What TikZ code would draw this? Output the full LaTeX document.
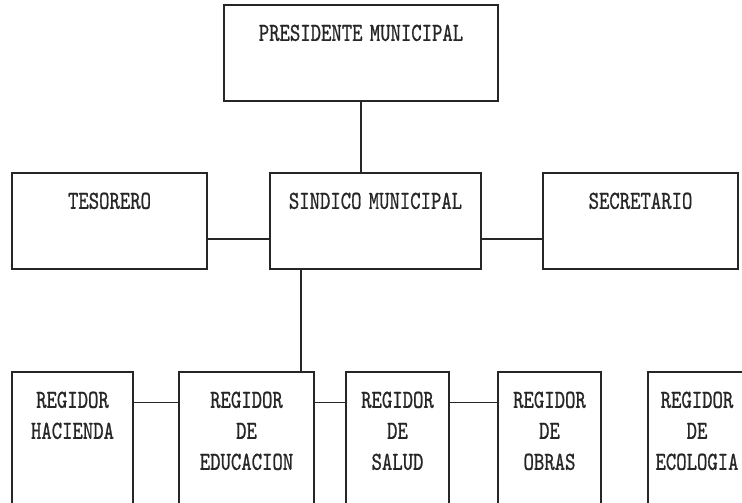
\documentclass[tikz,border=0pt]{standalone}
\usepackage{fontspec}
\newfontfamily\orgfont[FakeStretch=0.76,FakeBold=0.8,WordSpace=0.7]{lmmono10-regular.otf}
\begin{document}
\begin{tikzpicture}[x=1pt,y=-1pt,
  box/.style={draw=black!85,line width=1.1pt,rectangle,inner sep=0pt,fill=white},
  lbl/.style={anchor=north,inner sep=0pt,align=center,text=black!85,font=\orgfont\fontsize{26}{31}\selectfont},
  conn/.style={draw=black!85,line width=1.1pt}]
\useasboundingbox (0,0) rectangle (742,503);
\clip (0,0) rectangle (742,503);
% boxes
\node[box,minimum width=274,minimum height=96] (pres) at (361,53) {};
\node[box,minimum width=195,minimum height=96] (tes) at (109.5,221) {};
\node[box,minimum width=211,minimum height=96] (sind) at (375.5,221) {};
\node[box,minimum width=195,minimum height=96] (sec) at (640.5,221) {};
\node[box,minimum width=121,minimum height=158] (hac) at (72.5,451) {};
\node[box,minimum width=135,minimum height=158] (edu) at (246.5,451) {};
\node[box,minimum width=103,minimum height=158] (sal) at (397.5,451) {};
\node[box,minimum width=103,minimum height=158] (obr) at (549.5,451) {};
\node[box,minimum width=98,minimum height=158] (eco) at (697,451) {};
% labels
\node[lbl] (tpres) at ([yshift=-20pt]pres.north) {PRESIDENTE MUNICIPAL};
\node[lbl] (ttes) at ([yshift=-20pt]tes.north) {TESORERO};
\node[lbl] (tsind) at ([yshift=-20pt]sind.north) {SINDICO MUNICIPAL};
\node[lbl] (tsec) at ([yshift=-20pt]sec.north) {SECRETARIO};
\node[lbl] (thac) at ([yshift=-20pt]hac.north) {REGIDOR\\HACIENDA};
\node[lbl] (tedu) at ([yshift=-20pt]edu.north) {REGIDOR\\DE\\EDUCACION};
\node[lbl] (tsal) at ([yshift=-20pt]sal.north) {REGIDOR\\DE\\SALUD};
\node[lbl] (tobr) at ([yshift=-20pt]obr.north) {REGIDOR\\DE\\OBRAS};
\node[lbl] (teco) at ([yshift=-20pt]eco.north) {REGIDOR\\DE\\ECOLOGIA};
% connectors
\draw[conn] (pres.south) -- (pres.south |- sind.north);
\draw[conn] ([yshift=-18pt]tes.east) -- ([yshift=-18pt]sind.west);
\draw[conn] ([yshift=-18pt]sind.east) -- ([yshift=-18pt]sec.west);
\draw[conn] ([xshift=-74.5pt]sind.south) -- ([xshift=-74.5pt]sind.south |- edu.north);
\draw[conn] ([yshift=-31pt]hac.north east) -- ([yshift=-31pt]edu.north west);
\draw[conn] ([yshift=-31pt]edu.north east) -- ([yshift=-31pt]sal.north west);
\draw[conn] ([yshift=-31pt]sal.north east) -- ([yshift=-31pt]obr.north west);
\end{tikzpicture}
\end{document}
